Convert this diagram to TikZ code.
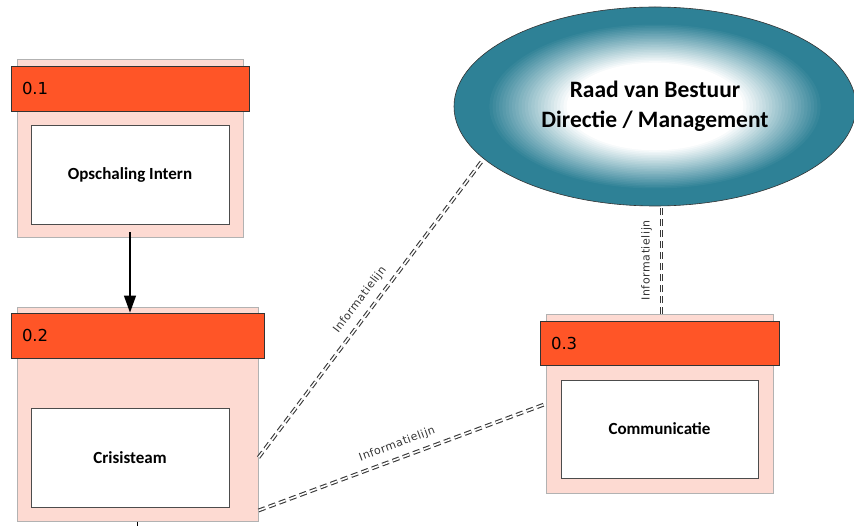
\documentclass[tikz,border=0pt]{standalone}
\usepackage{fontspec}
\setmainfont{Carlito}
\newfontfamily\numfont{DejaVu Sans}
\newfontfamily\lblfont{DejaVu Sans}[LetterSpace=5]
\usepackage{xcolor}
\usetikzlibrary{arrows.meta, positioning, shapes.geometric}

\definecolor{hdrorange}{HTML}{FF5527}
\definecolor{boxpink}{HTML}{FDDAD2}
\definecolor{rvbteal}{HTML}{2E8196}

\begin{document}
\begin{tikzpicture}[
    x=1pt, y=-1pt,
    outerbox/.style={rectangle, draw=black!30, line width=1pt, fill=boxpink},
    header/.style={rectangle, draw=black!80, line width=0.8pt, fill=hdrorange, minimum height=45pt, inner xsep=11pt, align=left, font=\numfont\fontsize{16.5}{20}\selectfont},
    procbox/.style={rectangle, draw=black!70, line width=0.9pt, fill=white, minimum width=198pt, minimum height=99pt, font=\bfseries\fontsize{17}{20}\selectfont},
    board/.style={ellipse, draw=black!80, line width=0.6pt, fill=rvbteal, minimum width=402pt, minimum height=199pt, align=center, font=\bfseries\fontsize{23.5}{30}\selectfont,
        path picture={
            % glow from teal rim to white centre
            \foreach \k in {0,...,24} {
                \pgfmathsetmacro\sc{0.84-0.016*\k}
                \pgfmathsetmacro\mix{100-4*\k}
                \fill[rvbteal!\mix!white] (path picture bounding box.center) ellipse [x radius=\sc*201pt, y radius=\sc*99.5pt];
            }
            \fill[white] (path picture bounding box.center) ellipse [x radius=0.44*201pt, y radius=0.44*99.5pt];
        }},
    flow/.style={-{Triangle[length=17pt, width=12pt]}, line width=1.1pt, black},
    infoline/.style={draw=black!78, line width=1.1pt, double=white, double distance=1.6pt, dash pattern=on 7pt off 4pt},
    infolabel/.style={font=\lblfont\fontsize{11}{12}\selectfont, text=black!80, inner sep=2pt},
]
    \useasboundingbox (0,0) rectangle (854,526);

    % Process 0.1
    \node[outerbox, minimum width=226pt, minimum height=178pt] (outer01) at (130,149) {};
    \node[header, text width=216pt] (hdr01) at (130,88.5) {0.1};
    \node[procbox] (proc01) at (130,174.5) {Opschaling Intern};

    % Process 0.2
    \node[outerbox, minimum width=241pt, minimum height=213pt] (outer02) at (137.5,414.5) {};
    \node[header, text width=231pt] (hdr02) at (137.5,335.5) {0.2};
    \node[procbox] (proc02) at (130,457.5) {Crisisteam};

    % Process 0.3
    \node[outerbox, minimum width=227pt, minimum height=178pt] (outer03) at (659.5,404) {};
    \node[header, text width=217pt, minimum height=44pt] (hdr03) at (659.5,343) {0.3};
    \node[procbox, minimum width=197pt, minimum height=98pt] (proc03) at (659.5,429) {Communicatie};

    % Board
    \node[board] (rvb) at (655,106.5) {Raad van Bestuur\\Directie / Management};

    % Connections
    \coordinate (offpage) at (137.5,545);
    \coordinate (vtop) at ([xshift=2pt]outer03.north);
    \draw[flow, shorten <=8pt] (proc01.south) -- (hdr02.north -| proc01.south);
    \draw[line width=1pt] (outer02.south) -- (offpage);

    % Information lines
    \draw[infoline] (outer02.east |- proc02) -- node[infolabel, midway, sloped, above=6pt] {Informatielijn} (rvb.197);
    \draw[infoline] ([yshift=11pt]outer02.south east) -- node[infolabel, midway, sloped, above=6pt] {Informatielijn} (outer03.west);
    \draw[infoline] (vtop) -- node[infolabel, midway, sloped, above=7pt] {Informatielijn} (rvb.south -| vtop);
\end{tikzpicture}
\end{document}
